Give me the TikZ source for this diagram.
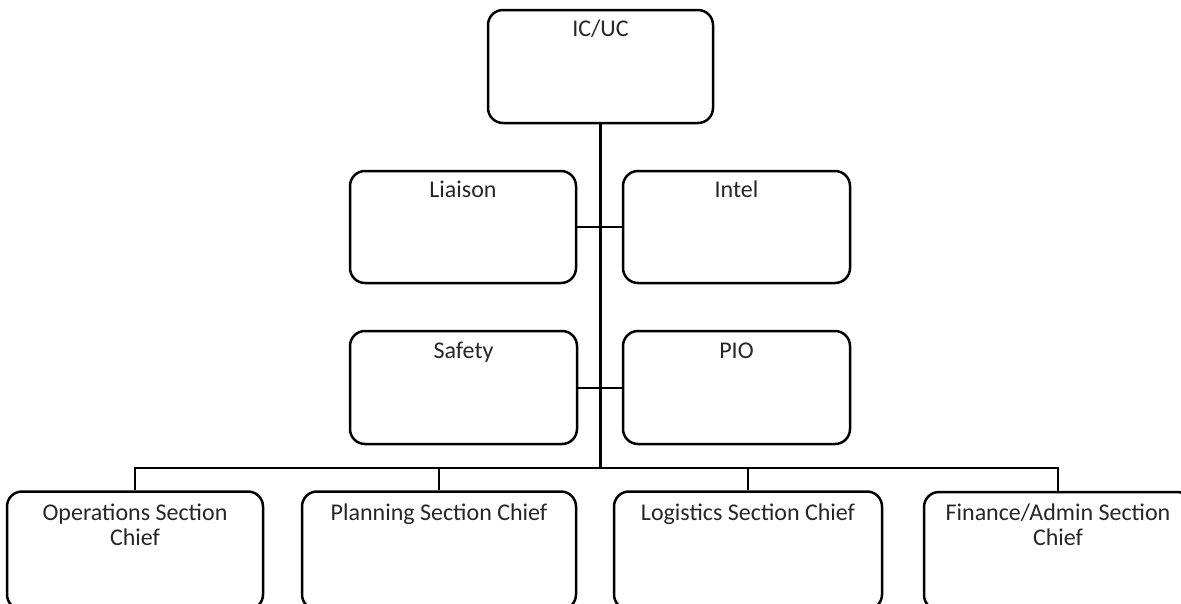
\documentclass[tikz,border=0pt]{standalone}
\usepackage{fontspec}
\setmainfont{Carlito}
\definecolor{txt}{RGB}{38,38,38}
\begin{document}
\begin{tikzpicture}[x=1pt,y=-1pt,
  box/.style={draw=black, line width=2.5pt, rounded corners=15pt, inner sep=0pt, fill=white},
  lbl/.style={anchor=base, inner sep=0pt, align=center, text=txt, font=\fontsize{24}{25}\selectfont},
  trunk/.style={draw=black, line width=3pt},
  link/.style={draw=black, line width=2pt},
  drop/.style={draw=black, line width=2.5pt}]
\useasboundingbox (0,0) rectangle (1181,603);
\fill[white] (0,0) rectangle (1181,603);
\clip (0,0) rectangle (1181,603);

\coordinate (bus) at (600,468);

\node[box, minimum width=225pt, minimum height=113pt] (ic) at (600.5,66.5) {};
\node[box, minimum width=226pt, minimum height=112pt] (liaison) at (463,227) {};
\node[box, minimum width=227pt, minimum height=112pt] (intel) at (736.5,227) {};
\node[box, minimum width=227pt, minimum height=113pt] (safety) at (463.5,387.5) {};
\node[box, minimum width=227pt, minimum height=113pt] (pio) at (736.5,387.5) {};
\node[box, minimum width=256pt, minimum height=118pt] (ops) at (135,550.5) {};
\node[box, minimum width=274pt, minimum height=118pt] (plan) at (439,550.5) {};
\node[box, minimum width=268pt, minimum height=118pt] (logi) at (748,550.5) {};
\node[box, minimum width=268pt, minimum height=118pt] (fin) at (1058,551) {};

\draw[trunk] (ic.south) -- (ic.south |- bus);
\draw[link] (liaison.east) -- (intel.west);
\draw[link] (safety.east) -- (pio.west);
\draw[drop] (ops.north) |- (fin.north |- bus) -- (fin.north);
\draw[drop] (plan.north) -- (plan.north |- bus);
\draw[drop] (logi.north) -- (logi.north |- bus);

\node[lbl] (icl) at ([yshift=-27.5pt]ic.north) {IC/UC};
\node[lbl] (liaisonl) at ([yshift=-28pt]liaison.north) {Liaison};
\node[lbl] (intell) at ([yshift=-28pt]intel.north) {Intel};
\node[lbl] (safetyl) at ([yshift=-29pt]safety.north) {Safety};
\node[lbl] (piol) at ([yshift=-29pt]pio.north) {PIO};
\node[lbl] (opsl) at ([yshift=-55pt]ops.north) {Operations Section\\Chief};
\node[lbl] (planl) at ([yshift=-30pt]plan.north) {Planning Section Chief};
\node[lbl] (logil) at ([yshift=-30pt]logi.north) {Logistics Section Chief};
\node[lbl] (finl) at ([yshift=-55pt]fin.north) {Finance/Admin Section\\Chief};
\end{tikzpicture}
\end{document}
